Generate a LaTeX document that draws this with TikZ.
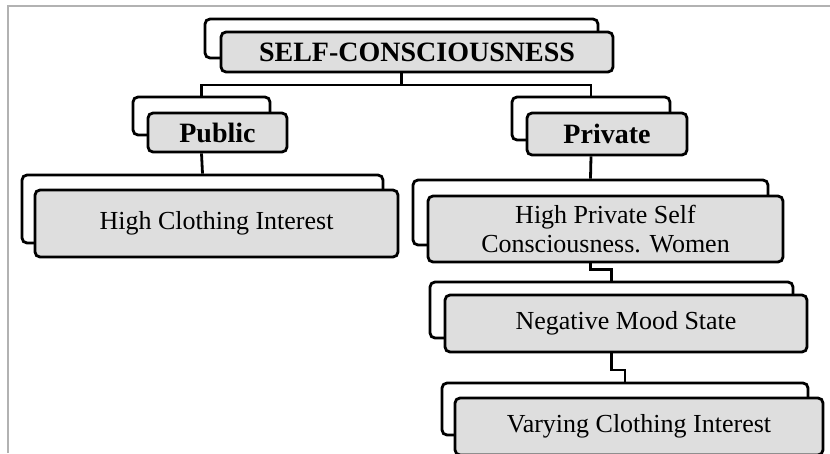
\documentclass[tikz,border=0pt]{standalone}
\usepackage{fontspec}
\setmainfont{Liberation Serif}
\usetikzlibrary{positioning}
\usetikzlibrary{calc}

\tikzset{backbox/.style={draw=black, line width=2.8pt, rounded corners=5pt, fill=white, inner sep=0pt},
  frontbox/.style={backbox, fill=black!13, align=center, font=\fontsize{26}{29}\selectfont},
  headbox/.style={frontbox, font=\bfseries\fontsize{28}{32}\selectfont},
  link/.style={line width=2.8pt}}

\begin{document}
\begin{tikzpicture}[x=1pt,y=-1pt]
  \useasboundingbox (0,0) rectangle (830,453);
  \draw[black!30, line width=2pt] (8,453) -- (8,6) -- (830,6);
  % top
  \node[backbox, minimum width=393pt, minimum height=39pt] (topB) at (401.5,38.5) {};
  \node[headbox, minimum width=392pt, minimum height=40pt] (top) at (417,52) {SELF-CONSCIOUSNESS};
  % public side
  \node[backbox, minimum width=137pt, minimum height=38pt] (pubB) at (201.5,116) {};
  \node[headbox, minimum width=139pt, minimum height=39pt] (pub) at (217.5,132.5) {Public};
  \node[backbox, minimum width=361pt, minimum height=68pt] (hciB) at (202.5,209) {};
  \node[frontbox, minimum width=363pt, minimum height=67pt] (hci) at (216.5,223.5) {High Clothing Interest};
  % private side
  \node[backbox, minimum width=158pt, minimum height=43pt] (privB) at (591,118.5) {};
  \node[headbox, minimum width=160pt, minimum height=42pt] (priv) at (607,134) {Private};
  \node[backbox, minimum width=355pt, minimum height=65pt] (hpscB) at (590.5,212.5) {};
  \node[frontbox, minimum width=355pt, minimum height=66pt] (hpsc) at (605.5,229) {High Private Self\\Consciousness. Women};
  \node[backbox, minimum width=363pt, minimum height=56pt] (nmsB) at (611.5,310) {};
  \node[frontbox, minimum width=362pt, minimum height=57pt] (nms) at (626,323.5) {Negative Mood State};
  \node[backbox, minimum width=366pt, minimum height=52pt] (vciB) at (625,409) {};
  \node[frontbox, minimum width=368pt, minimum height=57pt] (vci) at (639,426.5) {Varying Clothing Interest};
  % links
  \draw[link] (topB |- top.south) -- (topB |- 0,85) coordinate (split);
  \draw[link] (pubB.north) |- (split) -| (privB.north);
  \draw[link] (pubB |- pub.south) -- (hciB.north);
  \draw[link] (privB |- priv.south) -- (hpscB.north);
  \draw[link] (hpscB |- hpsc.south) -- ++(0,6) -| (nmsB.north);
  \draw[link] (nmsB |- nms.south) -- (nmsB |- 0,370) -| (vciB.north);
\end{tikzpicture}
\end{document}
